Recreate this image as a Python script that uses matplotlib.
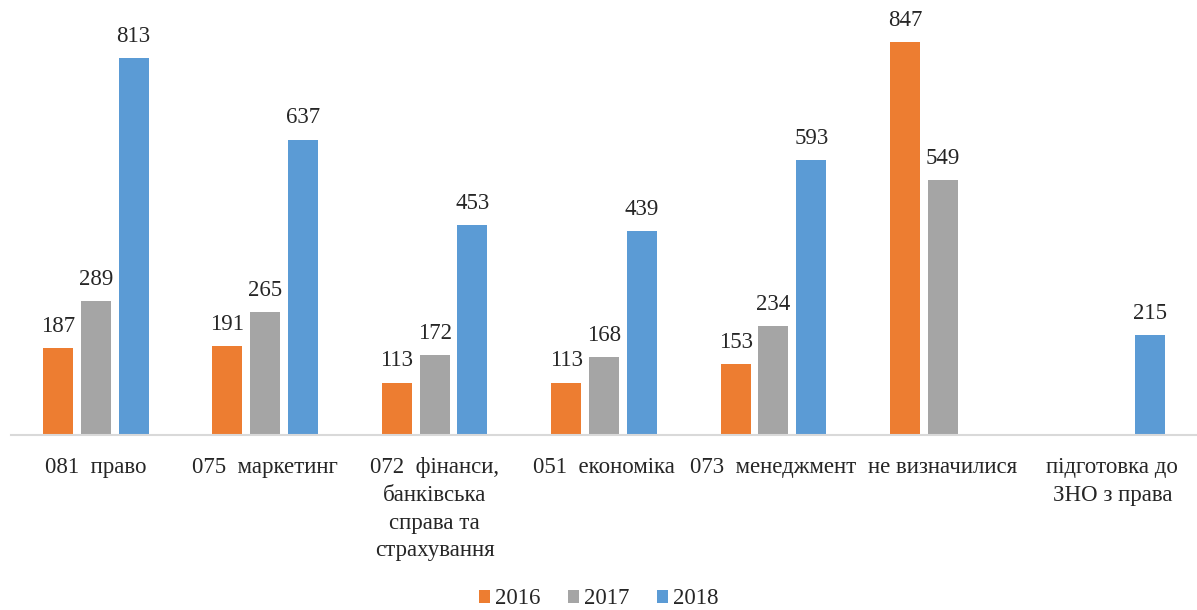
import numpy as np
import matplotlib
matplotlib.use("Agg")
import matplotlib.pyplot as plt

categories = ["081  право", "075  маркетинг", "072  фінанси,\nбанківська\nсправа та\nстрахування",
              "051  економіка", "073  менеджмент", "не визначилися", "підготовка до\nЗНО з права"]
years = ["2016", "2017", "2018"]
v2016 = [187, 191, 113, 113, 153, 847, np.nan]
v2017 = [289, 265, 172, 168, 234, 549, np.nan]
v2018 = [813, 637, 453, 439, 593, np.nan, 215]
colors = ["#ED7D31", "#A5A5A5", "#5B9BD5"]

plt.rcParams['font.family'] = ['Liberation Serif', 'DejaVu Serif']

fig = plt.figure(figsize=(11.97, 6.10), dpi=100)
ax = fig.add_axes([11/1197, 1 - 435/610, 1186/1197, 435/610])

x = np.arange(len(categories))
width = 30/170
step = 38/170
for i, (vals, c, lab) in enumerate(zip([v2016, v2017, v2018], colors, years)):
    pos = x + (i - 1) * step
    ax.bar(pos, vals, width=width, color=c, label=lab)
    for p, v in zip(pos, vals):
        if not np.isnan(v):
            ax.annotate(f"{int(v)}", (p, v), xytext=(0, 8), textcoords="offset points",
                        ha="center", va="bottom", fontsize=16.5, color="#262626")

ax.set_xlim(-0.5, len(categories) - 0.5)
ax.set_ylim(0, 938)
for s in ["top", "right", "left"]:
    ax.spines[s].set_visible(False)
ax.spines["bottom"].set_color("#D9D9D9")
ax.spines["bottom"].set_linewidth(1.5)
ax.set_yticks([])
ax.set_xticks(x)
ax.set_xticklabels(categories, fontsize=16.5, color="#262626", linespacing=1.42, va="top")
ax.tick_params(axis="x", length=0, pad=16)

fig.legend(loc="center", bbox_to_anchor=(0.5, 1 - 599/610), ncol=3, frameon=False,
           fontsize=16.5, handlelength=0.5, handleheight=0.5, handletextpad=0.2,
           columnspacing=1.2, labelcolor="#262626")

fig.savefig("out.png", dpi=100)
